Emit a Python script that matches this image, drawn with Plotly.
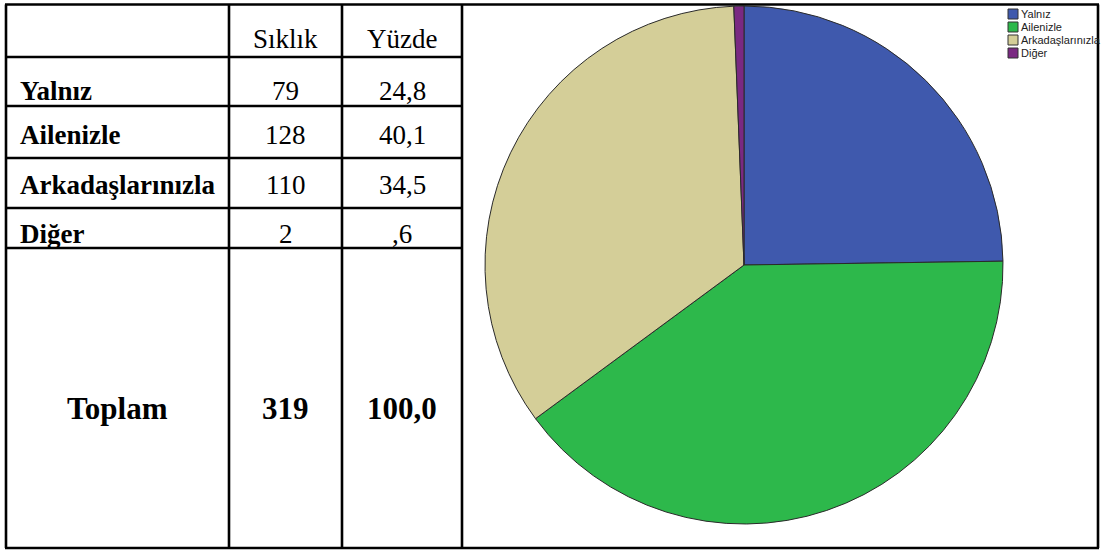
import plotly.graph_objects as go

# ---------------- data ----------------
categories = ["Yalnız", "Ailenizle", "Arkadaşlarınızla", "Diğer"]
frequencies = [79, 128, 110, 2]
percents = ["24,8", "40,1", "34,5", ",6"]
header = ["Sıklık", "Yüzde"]
total_label = "Toplam"
total_freq = "319"
total_pct = "100,0"
colors = ["#3F59AD", "#2DB84B", "#D4CE98", "#7A2982"]

W, H = 1120, 550


def px(x):
    return x / W


def py(y):
    return 1 - y / H


fig = go.Figure()

# pie centre (744, 265), radius 259 in pixels
cx, cy, r = 744, 265, 259
fig.add_trace(go.Pie(
    labels=categories,
    values=frequencies,
    sort=False,
    direction="clockwise",
    rotation=0,
    textinfo="none",
    hoverinfo="label+value+percent",
    marker=dict(colors=colors, line=dict(color="#2a2a2a", width=1)),
    domain=dict(x=[px(cx - r), px(cx + r)], y=[py(cy + r), py(cy - r)]),
    showlegend=False,
))

shapes = []
annotations = []
LW = 2.6
BLK = "#000000"


def hline(y, x0, x1):
    shapes.append(dict(type="line", xref="paper", yref="paper",
                       x0=px(x0), x1=px(x1), y0=py(y), y1=py(y),
                       line=dict(color=BLK, width=LW)))


def vline(x, y0, y1):
    shapes.append(dict(type="line", xref="paper", yref="paper",
                       x0=px(x), x1=px(x), y0=py(y0), y1=py(y1),
                       line=dict(color=BLK, width=LW)))


top, bottom = 4.5, 548
left, right = 6, 1098
col1, col2, col3 = 229, 342, 462
row_lines = [57, 106, 158, 208, 248]

hline(top, left - 1, right + 1)
hline(bottom, left - 1, right + 1)
for yl in row_lines:
    hline(yl, left, col3)
for xl in [left, col1, col2, col3, right]:
    vline(xl, top, bottom)

serif = "Liberation Serif, Times New Roman, serif"


def txt(x, y, s, size, bold=False, anchor="center"):
    annotations.append(dict(
        xref="paper", yref="paper", x=px(x), y=py(y), text=("<b>%s</b>" % s) if bold else s,
        showarrow=False, xanchor=anchor, yanchor="middle",
        font=dict(family=serif, size=size, color="#000")))


c2 = (col1 + col2) / 2
c3 = (col2 + col3) / 2
txt(c2, 39, header[0], 27)
txt(c3, 39, header[1], 27)
row_y = [91, 135, 185, 234]
for i, cat in enumerate(categories):
    txt(18, row_y[i], cat, 27, bold=True, anchor="left")
    txt(c2, row_y[i], str(frequencies[i]), 27)
    txt(c3, row_y[i], percents[i], 27)
txt((left + col1) / 2, 408, total_label, 31, bold=True)
txt(c2, 408, total_freq, 31, bold=True)
txt(c3, 408, total_pct, 31, bold=True)

# legend (manual, small)
leg_x, leg_y0, leg_dy, box = 1008, 14, 13, 10
for i, cat in enumerate(categories):
    yc = leg_y0 + i * leg_dy
    shapes.append(dict(type="rect", xref="paper", yref="paper",
                       x0=px(leg_x), x1=px(leg_x + box),
                       y0=py(yc + box / 2), y1=py(yc - box / 2),
                       fillcolor=colors[i], line=dict(color="#333333", width=1)))
    annotations.append(dict(
        xref="paper", yref="paper", x=px(leg_x + box + 2), y=py(yc), text=cat,
        showarrow=False, xanchor="left", yanchor="middle", borderpad=0,
        font=dict(family="Liberation Sans, Arial, sans-serif", size=11, color="#222")))

fig.update_layout(
    width=W, height=H,
    margin=dict(l=0, r=0, t=0, b=0),
    paper_bgcolor="white", plot_bgcolor="white",
    shapes=shapes, annotations=annotations,
)

fig.write_html("out.html", config={"displayModeBar": False},
               post_script="document.body.style.margin='0';document.body.style.overflow='hidden';")
